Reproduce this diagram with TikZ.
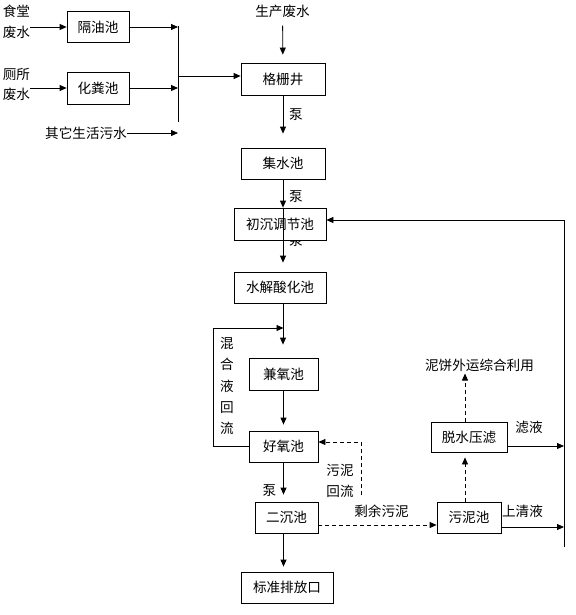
\documentclass[tikz,border=0pt]{standalone}
\usepackage{fontspec}
\setmainfont{Noto Sans CJK SC}
\usetikzlibrary{arrows.meta,positioning}

\begin{document}
\begin{tikzpicture}[x=1pt, y=-1pt, font=\fontsize{13.6}{15}\selectfont,
        pool/.style={rectangle, draw, line width=0.8pt, fill=white, align=center, inner sep=0pt},
        flow/.style={-{Triangle[length=7pt,width=6pt]}, line width=0.8pt},
        sludgeflow/.style={flow, dash pattern=on 4pt off 3pt},
        lbl/.style={inner sep=0pt, align=center}]
            \useasboundingbox (0,0) rectangle (575,615);

            % Nodes
            \node[lbl, font=\fontsize{13.6}{21}\selectfont] (shitang) at (16.5,21.5) {食堂\\废水};
            \node[lbl, font=\fontsize{13.6}{20}\selectfont] (cesuo) at (16.5,84) {厕所\\废水};
            \node[lbl, anchor=east] (qita) at (127,133) {其它生活污水};
            \node[lbl] (shengchan) at (282.5,11) {生产废水};

            \node[pool, minimum width=62pt, minimum height=31pt] (youchi) at (98,27) {隔油池};
            \node[pool, minimum width=62pt, minimum height=32pt] (fenchi) at (98,88) {化粪池};

            \node[pool, minimum width=84pt, minimum height=32pt] (gezha) at (283,79) {格栅井};
            \node[pool, minimum width=84pt, minimum height=31pt] (jishui) at (283,163.5) {集水池};
            \node[lbl] (beng1) at (296,115) {泵};
            \node[lbl] (beng2) at (296,197) {泵};
            \node[lbl] (beng3) at (296,241) {泵};
            \node[pool, minimum width=92pt, minimum height=32pt] (tiaojie) at (280,224) {初沉调节池};
            \node[pool, minimum width=92pt, minimum height=31pt] (shuijie) at (280,287.5) {水解酸化池};
            \node[pool, minimum width=69pt, minimum height=32pt] (jianyang) at (283.5,374) {兼氧池};
            \node[pool, minimum width=69pt, minimum height=31pt] (haoyang) at (283.5,446.5) {好氧池};
            \node[lbl] (beng4) at (269.5,491) {泵};
            \node[pool, minimum width=63pt, minimum height=31pt] (erchen) at (286.5,517.5) {二沉池};
            \node[pool, minimum width=92pt, minimum height=31pt] (paifang) at (287,587.5) {标准排放口};

            \node[lbl, font=\fontsize{13.6}{21.3}\selectfont] (hunheye) at (227,386) {混\\合\\液\\回\\流};
            \node[lbl, font=\fontsize{13.6}{21}\selectfont] (huiliu) at (340,480.5) {污泥\\回流};
            \node[lbl] (shengyu) at (381.5,511) {剩余污泥};

            \node[pool, minimum width=64pt, minimum height=31pt] (wuni) at (469,517.5) {污泥池};
            \node[pool, minimum width=76pt, minimum height=30pt] (tuoshui) at (469,437) {脱水压滤};
            \node[lbl] (nibing) at (479.5,365) {泥饼外运综合利用};
            \node[lbl] (lvye) at (529,427) {滤液};
            \node[lbl] (qingye) at (522.5,511) {上清液};

            \coordinate (jtop) at (178,26);
            \coordinate (jbot) at (178,122);
            \coordinate (jmid) at (178,76);
            \coordinate (hunhe) at (283.5,328);
            \coordinate (wnhl) at (361,495);
            \coordinate (ybot) at (564,547);

            % domestic sewage
            \draw[flow] (shitang.east |- youchi) -- (youchi);
            \draw[flow] (cesuo.east |- fenchi) -- (fenchi);
            \draw[flow] (youchi) -- (youchi -| jtop);
            \draw[flow] (fenchi) -- (fenchi -| jtop);
            \draw[flow] (qita) -- (qita -| jtop);
            \draw[line width=0.8pt] (jtop) -- (jbot);
            \draw[flow] (jmid) -- (jmid -| gezha.west);

            % main line
            \draw[flow, shorten <=8pt, shorten >=8pt] (shengchan) -- (gezha);
            \draw[flow, shorten >=14pt] (gezha) -- (jishui);
            \draw[flow] (jishui) -- (jishui.south |- tiaojie.north);
            \draw[flow, shorten >=9pt] (jishui.south |- tiaojie.north) -- (jishui.south |- shuijie.north);
            \draw[flow, shorten >=13pt] (jishui.south |- shuijie.south) -- (jishui.south |- jianyang.north);
            \draw[flow, shorten >=6pt] (jianyang) -- (haoyang);
            \draw[flow, shorten >=7pt] (haoyang.south) -- (haoyang.south |- erchen.north);
            \draw[flow, shorten >=5pt] (haoyang.south |- erchen.south) -- (haoyang.south |- paifang.north);
            \draw[flow] (haoyang.west) -| (213,328) -- (hunhe);

            % sludge
            \draw[sludgeflow] (wnhl) |- ([yshift=4.5pt]haoyang.east);
            \draw[sludgeflow] ([yshift=-7.5pt]erchen.east) -- ([yshift=-7.5pt]wuni.west);
            \draw[sludgeflow, shorten >=5pt] ([xshift=-4pt]wuni.north) -- ([xshift=-4pt]tuoshui.south);
            \draw[sludgeflow, shorten >=2pt] ([xshift=-4pt]tuoshui.north) -- ([xshift=-4pt]tuoshui.north |- nibing.south);

            % return line
            \draw[flow] ([yshift=-9pt]tuoshui.east) -- ([yshift=-9pt]tuoshui.east -| ybot);
            \draw[flow] ([yshift=-9.5pt]wuni.east) -- ([yshift=-9.5pt]wuni.east -| ybot);
            \draw[flow] (ybot) |- ([yshift=4pt]tiaojie.east);
        \end{tikzpicture}
\end{document}
